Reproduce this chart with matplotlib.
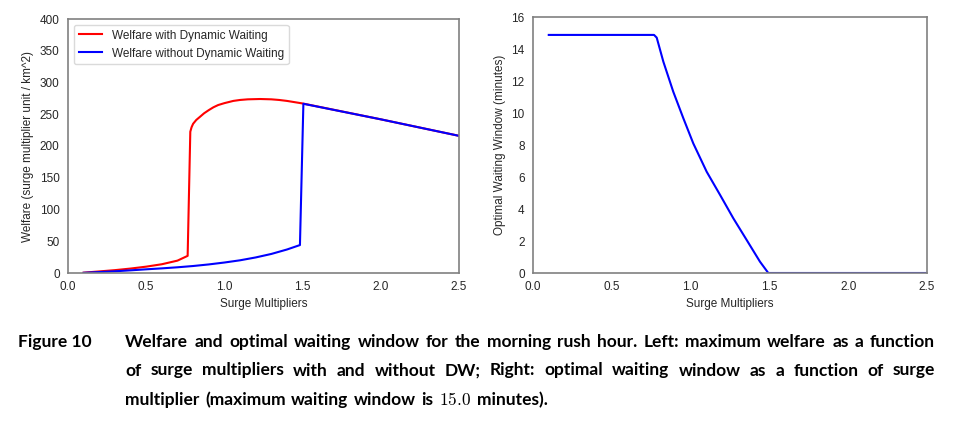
import matplotlib
matplotlib.use('Agg')
import matplotlib.pyplot as plt

# ---------------- data ----------------
surge_dw = [0.10, 0.20, 0.30, 0.40, 0.50, 0.60, 0.70, 0.765, 0.782, 0.79, 0.80, 0.82,
            0.844, 0.87, 0.90, 0.93, 0.96, 1.00, 1.057, 1.10, 1.15, 1.228, 1.30, 1.35,
            1.40, 1.45, 1.50, 2.00, 2.50]
welfare_dw = [0.5, 2.5, 4.5, 7.0, 10.0, 13.8, 19.5, 27.0, 222.5, 229.5, 235.0, 241.0,
              246.0, 251.5, 256.5, 261.0, 264.5, 267.5, 271.0, 272.5, 273.5, 274.0, 273.5, 272.5,
              271.0, 269.0, 267.0, 242.0, 216.0]

surge_nodw = [0.10, 0.20, 0.30, 0.40, 0.50, 0.60, 0.70, 0.80, 0.90, 1.00, 1.10, 1.20,
              1.30, 1.40, 1.483, 1.505, 2.00, 2.50]
welfare_nodw = [0.3, 1.5, 2.7, 4.2, 5.8, 7.3, 9.0, 11.0, 13.5, 16.5, 20.0, 24.5,
                30.0, 37.0, 44.0, 266.5, 242.0, 216.0]

surge_window = [0.10, 0.768, 0.785, 0.827, 0.890, 0.954, 1.017, 1.102, 1.187, 1.271,
                1.356, 1.440, 1.493, 2.50]
window_minutes = [14.88, 14.88, 14.71, 13.21, 11.33, 9.67, 8.10, 6.33, 4.88, 3.42,
                  2.06, 0.71, 0.0, 0.0]

x_ticks = [0.0, 0.5, 1.0, 1.5, 2.0, 2.5]
welfare_ticks = [0, 50, 100, 150, 200, 250, 300, 350, 400]
window_ticks = [0, 2, 4, 6, 8, 10, 12, 14, 16]

label_dw = 'Welfare with Dynamic Waiting'
label_nodw = 'Welfare without Dynamic Waiting'
xlabel = 'Surge Multipliers'
ylabel_left = 'Welfare (surge multiplier unit / km^2)'
ylabel_right = 'Optimal Waiting Window (minutes)'

caption_head = 'Figure 10'
caption_line1 = 'Welfare and optimal waiting window for the morning rush hour. Left: maximum welfare as a function'
caption_line2 = 'of surge multipliers with and without DW; Right: optimal waiting window as a function of surge'
caption_line3 = 'multiplier (maximum waiting window is $15.0$ minutes).'

# ---------------- style ----------------
plt.rcParams.update({
    'font.family': ['Liberation Sans', 'DejaVu Sans'],
    'font.size': 8.5,
    'text.color': '.15',
    'axes.labelcolor': '.15',
    'xtick.color': '.15',
    'ytick.color': '.15',
    'axes.edgecolor': '0.5',
    'axes.linewidth': 1.2,
    'xtick.major.size': 0,
    'ytick.major.size': 0,
    'xtick.major.pad': 6,
    'ytick.major.pad': 6,
    'mathtext.fontset': 'cm',
})

W, H = 958, 424
fig = plt.figure(figsize=(W / 100, H / 100), dpi=100)

ax1 = fig.add_axes([68 / W, 1 - 273 / H, (459 - 68) / W, (273 - 19) / H])
ax2 = fig.add_axes([533 / W, 1 - 273 / H, (927 - 533) / W, (273 - 17) / H])

ax1.plot(surge_dw, welfare_dw, color='red', lw=1.5, label=label_dw)
ax1.plot(surge_nodw, welfare_nodw, color='blue', lw=1.5, label=label_nodw)
ax1.set_xlim(0, 2.5)
ax1.set_ylim(0, 400)
ax1.set_xticks(x_ticks)
ax1.set_yticks(welfare_ticks)
ax1.set_xlabel(xlabel, labelpad=3)
ax1.set_ylabel(ylabel_left, labelpad=4)
leg = ax1.legend(loc='upper left', frameon=True, fancybox=True, fontsize=8.5)
leg.get_frame().set_edgecolor('0.82')
leg.get_frame().set_linewidth(1.0)

ax2.plot(surge_window, window_minutes, color='blue', lw=1.5)
ax2.set_xlim(0, 2.5)
ax2.set_ylim(0, 16)
ax2.set_xticks(x_ticks)
ax2.set_yticks(window_ticks)
ax2.set_xlabel(xlabel, labelpad=3)
ax2.set_ylabel(ylabel_right, labelpad=4)

# ---------------- caption (justified words) ----------------
cap_font = dict(family=['Lato', 'DejaVu Sans'], fontsize=12.5, fontweight='bold', color='black')
renderer = fig.canvas.get_renderer()


def word_width(w):
    t = fig.text(0, 0, w, **cap_font)
    bb = t.get_window_extent(renderer=renderer)
    t.remove()
    return bb.width


def place_line(text, x0, x1, baseline, justify=True):
    words = text.split(' ')
    widths = [word_width(w) for w in words]
    space = word_width('a a') - word_width('aa')
    if justify and len(words) > 1:
        gap = (x1 - x0 - sum(widths)) / (len(words) - 1)
    else:
        gap = space * 1.3
    x = x0
    for w, wd in zip(words, widths):
        fig.text(x / W, 1 - baseline / H, w, va='baseline', ha='left', **cap_font)
        x += wd + gap


fig.text(18 / W, 1 - 346.7 / H, caption_head, va='baseline', ha='left', **cap_font)
place_line(caption_line1, 125, 935, 346.7)
place_line(caption_line2, 125, 935, 375.5)
place_line(caption_line3, 125, 935, 405, justify=False)

fig.savefig('out.png', dpi=100)
